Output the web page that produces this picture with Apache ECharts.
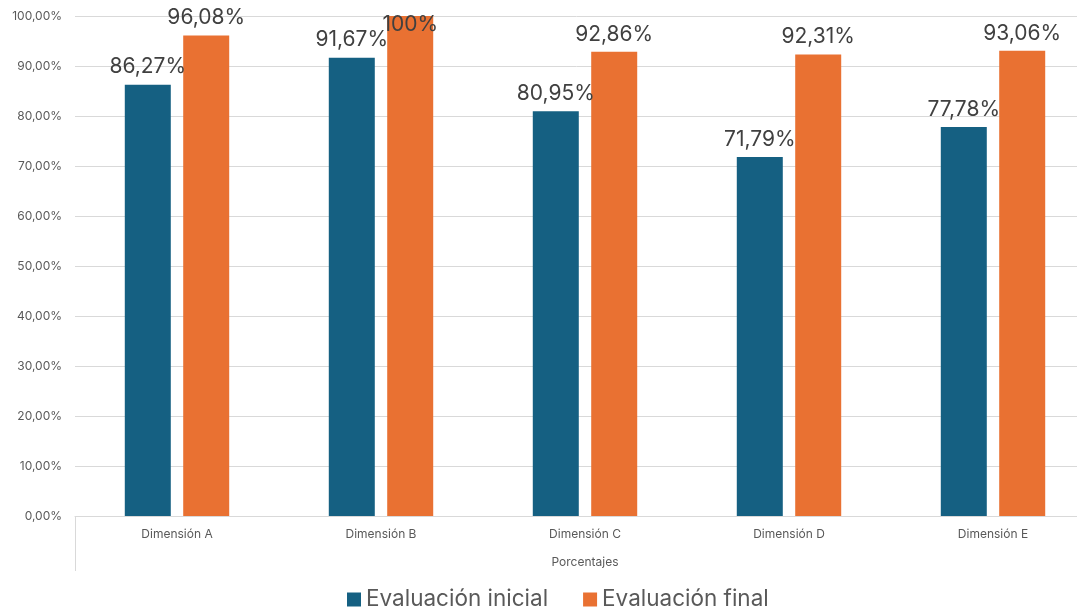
<!DOCTYPE html>
<html>
<head>
<meta charset="utf-8">
<script src="https://cdn.jsdelivr.net/npm/echarts@6/dist/echarts.min.js"></script>
<style>
  html, body { margin: 0; padding: 0; background: #fff; }
  #chart { width: 1077px; height: 609px; }
</style>
</head>
<body>
<div id="chart"></div>
<script>
// datos del gráfico
const categorias = ['Dimensión A', 'Dimensión B', 'Dimensión C', 'Dimensión D', 'Dimensión E'];
const evaluacionInicial = [86.27, 91.67, 80.95, 71.79, 77.78];
const evaluacionFinal = [96.08, 100, 92.86, 92.31, 93.06];
const ticksY = [0, 10, 20, 30, 40, 50, 60, 70, 80, 90, 100];

const fuente = 'Inter, "Open Sans", sans-serif';

function fmtEtiqueta(v) {
    if (Number.isInteger(v)) return v + '%';
    return v.toFixed(2).replace('.', ',') + '%';
}

// la etiqueta del 100% queda encima de la barra como en el original
function conEtiquetas(valores) {
    return valores.map(function (v) {
        if (v >= 100) {
            return { value: v, label: { offset: [0, 26] } };
        }
        return v;
    });
}

const myChart = echarts.init(document.getElementById('chart'));

const etiquetaSerie = {
    show: true,
    position: 'top',
    distance: 7,
    fontFamily: fuente,
    fontSize: 21,
    color: '#404040',
    formatter: function (p) { return fmtEtiqueta(p.value); }
};

const option = {
    animation: false,
    textStyle: { fontFamily: fuente },
    grid: {
        left: 75,
        width: 1020,
        top: 16,
        bottom: 93,
        outerBoundsMode: 'none'
    },
    legend: {
        top: 583,
        left: 342,
        icon: 'rect',
        itemWidth: 14,
        itemHeight: 14,
        itemGap: 35,
        textStyle: { fontSize: 22.5, color: '#595959', fontFamily: fuente },
        data: ['Evaluación inicial', 'Evaluación final']
    },
    xAxis: {
        type: 'category',
        data: categorias,
        name: 'Porcentajes',
        nameLocation: 'middle',
        nameGap: 40,
        nameTextStyle: { fontSize: 12, color: '#595959' },
        axisLine: { lineStyle: { color: '#d9d9d9' } },
        axisTick: { show: false },
        axisLabel: { fontSize: 12, color: '#595959', margin: 12 }
    },
    yAxis: {
        type: 'value',
        min: ticksY[0],
        max: ticksY[ticksY.length - 1],
        interval: 10,
        axisLine: { show: false },
        axisTick: { show: false },
        splitLine: { lineStyle: { color: '#d9d9d9' } },
        axisLabel: {
            fontSize: 12,
            color: '#595959',
            margin: 13,
            formatter: function (v) { return v.toFixed(2).replace('.', ',') + '%'; }
        }
    },
    series: [
        {
            name: 'Evaluación inicial',
            type: 'bar',
            barWidth: 46,
            barGap: '27%',
            data: conEtiquetas(evaluacionInicial),
            itemStyle: { color: '#156082' },
            label: etiquetaSerie
        },
        {
            name: 'Evaluación final',
            type: 'bar',
            barWidth: 46,
            data: conEtiquetas(evaluacionFinal),
            itemStyle: { color: '#E97132' },
            label: etiquetaSerie
        }
    ],
    graphic: [
        {
            type: 'line',
            shape: { x1: 75.5, y1: 516, x2: 75.5, y2: 571 },
            style: { stroke: '#d9d9d9', lineWidth: 1 }
        }
    ]
};

myChart.setOption(option);
window.addEventListener('resize', function () {
    myChart.resize();
});
</script>
</body>
</html>
